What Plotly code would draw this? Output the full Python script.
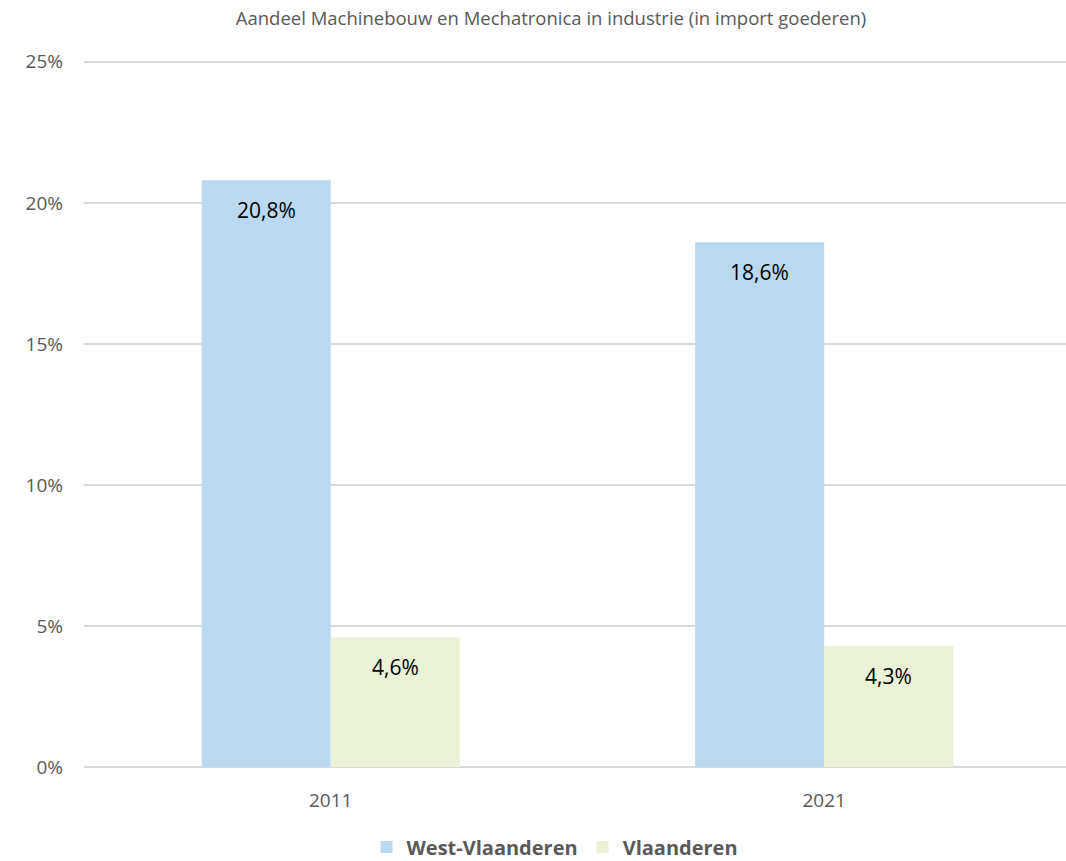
import plotly.graph_objects as go

# Share of machine building & mechatronics in industry (import of goods)
years = ["2011", "2021"]
west_vlaanderen = [20.8, 18.6]
vlaanderen = [4.6, 4.3]
series_names = ["West-Vlaanderen", "Vlaanderen"]
y_ticks = [0, 5, 10, 15, 20, 25]
y_tick_labels = ["0%", "5%", "10%", "15%", "20%", "25%"]
title_text = "Aandeel Machinebouw en Mechatronica in industrie (in import goederen)"

colors = ["#B9D9F3", "#EBF2D7"]
font_family = "Open Sans"
gray = "#595959"
grid = "#D9D9D9"


def fmt(v):
    return f"{v:.1f}".replace(".", ",") + "%"


fig = go.Figure()
for name, vals, col in zip(series_names, [west_vlaanderen, vlaanderen], colors):
    fig.add_trace(go.Bar(
        name=name, x=years, y=vals, marker=dict(color=col, line=dict(width=0)),
        offsetgroup=name,
    ))

# Value labels just inside the top of each bar
n = len(series_names)
for i, vals in enumerate([west_vlaanderen, vlaanderen]):
    for j, v in enumerate(vals):
        fig.add_annotation(
            x=j, y=v, xref="x", yref="y", text=fmt(v), showarrow=False,
            xshift=(i - (n - 1) / 2) * 129, yshift=-30,
            font=dict(family=font_family, size=21, color="#000000"),
        )

fig.update_layout(
    width=1066, height=861,
    margin=dict(l=84, r=0, t=59, b=94),
    paper_bgcolor="white", plot_bgcolor="white",
    bargap=0.477, bargroupgap=0,
    title=dict(text=title_text, x=551 / 1066, xanchor="center", xref="container",
               y=1 - 19 / 861, yanchor="middle", yref="container",
               font=dict(family=font_family, size=18.5, color=gray)),
    showlegend=True,
    legend=dict(orientation="h", x=555 / 1066, xanchor="center", xref="container",
                y=14 / 861, yanchor="middle", yref="container",
                font=dict(family=font_family, size=20, color=gray, weight="bold"),
                itemwidth=30, traceorder="normal"),
    xaxis=dict(type="category", range=[-0.5, 1.49], showgrid=False, zeroline=False,
               showline=False, ticks="", ticklabelstandoff=20,
               tickfont=dict(family=font_family, size=19, color=gray)),
    yaxis=dict(range=[0, 25.1], tickvals=y_ticks, ticktext=y_tick_labels, showgrid=True,
               gridcolor=grid, gridwidth=1.5, zeroline=True, zerolinecolor=grid,
               zerolinewidth=1.5, showline=False, ticks="", ticklabelstandoff=20,
               tickfont=dict(family=font_family, size=19, color=gray)),
)

fig.write_html("out.html")
